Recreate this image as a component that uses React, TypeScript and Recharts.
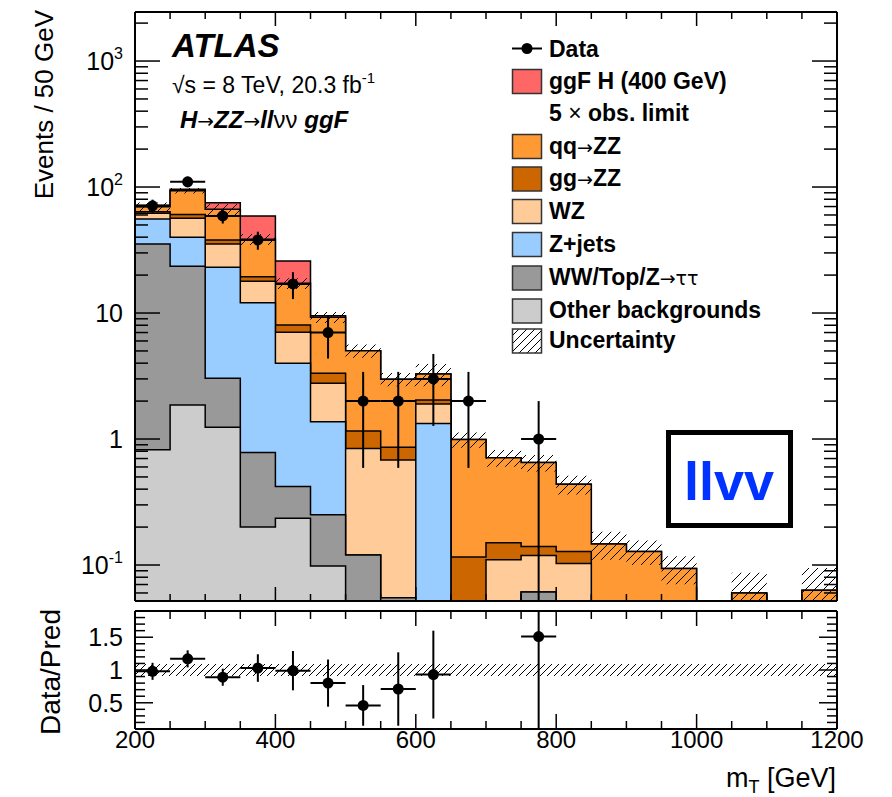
import React from "react";
import { ComposedChart, Area, Scatter, ErrorBar, XAxis, YAxis, ReferenceArea } from "recharts";

const YMIN = 0.0518;
const YMAX = 2450;
const RMIN = 0.1;
const RMAX = 1.9;

// lower edges of the 50 GeV bins
const binLow = [200, 250, 300, 350, 400, 450, 500, 550, 600, 650, 700, 750, 800, 850, 900, 950, 1000, 1050, 1100, 1150];

// expected events per bin for each process (stacked bottom to top)
const otherBkg = [0.82, 1.86, 1.24, 0.2, 0.235, 0.098, 0.02, 0, 0, 0, 0, 0, 0, 0, 0, 0, 0, 0, 0, 0];
const wwTopZtt = [34.5, 21.7, 1.79, 0.58, 0.185, 0.152, 0.1, 0.055, 0, 0, 0, 0.061, 0, 0, 0, 0, 0, 0, 0, 0];
const zJets = [20.4, 16.3, 20.1, 11.3, 3.58, 1.12, 0, 0, 1.33, 0, 0, 0, 0, 0, 0, 0, 0, 0, 0, 0];
const wz = [6.3, 16.6, 12.2, 5.8, 3.03, 1.4, 0.72, 0.625, 0.57, 0, 0.11, 0.058, 0.103, 0, 0, 0, 0, 0, 0, 0];
const ggZZ = [1.5, 4.2, 2.7, 1.5, 1.0, 0.55, 0.32, 0.18, 0.14, 0.116, 0.04, 0.021, 0.025, 0, 0, 0, 0, 0, 0, 0];
const qqZZ = [6.3, 32.8, 28.5, 19.1, 9.17, 5.93, 3.86, 2.12, 1.24, 0.874, 0.56, 0.51, 0.309, 0.147, 0.128, 0.094, 0, 0.06, 0, 0.063];
const ggfH = [1.7, 2.5, 8.5, 20.5, 8.7, 0.25, 0, 0, 0, 0, 0, 0, 0, 0, 0, 0, 0, 0, 0, 0];
// relative systematic uncertainty on the total background
const relUnc = [0.08, 0.05, 0.1, 0.1, 0.1, 0.1, 0.12, 0.12, 0.2, 0.14, 0.15, 0.15, 0.17, 0.25, 0.22, 0.25, 0, 0.45, 0, 0.5];

// observed events (bin centres) and their errors
const dataX = [225, 275, 325, 375, 425, 475, 525, 575, 625, 675, 775];
const dataN = [71, 110, 59, 38, 17, 7, 2, 2, 3, 2, 1];
const dataErr = [8.4, 10.5, 7.7, 6.2, 4.1, 2.65, 1.41, 1.41, 1.73, 1.41, 1.0];

// data / prediction
const ratioX = [225, 275, 325, 375, 425, 475, 525, 575, 625, 775];
const ratioVal = [0.98, 1.17, 0.89, 1.03, 0.99, 0.8, 0.46, 0.71, 0.93, 1.51];
const ratioErr = [0.13, 0.13, 0.13, 0.21, 0.3, 0.36, 0.31, 0.56, 0.67, 1.51];
const ratioUnc = 0.09;

// axis ticks
const xTicks = [200, 250, 300, 350, 400, 450, 500, 550, 600, 650, 700, 750, 800, 850, 900, 950, 1000, 1050, 1100, 1150, 1200];
const xLabels = [200, 400, 600, 800, 1000, 1200];
const logTicks = [
  0.06, 0.07, 0.08, 0.09, 0.1, 0.2, 0.3, 0.4, 0.5, 0.6, 0.7, 0.8, 0.9, 1, 2, 3, 4, 5, 6, 7, 8, 9,
  10, 20, 30, 40, 50, 60, 70, 80, 90, 100, 200, 300, 400, 500, 600, 700, 800, 900, 1000, 2000,
];
const logLabels: Record<string, [string, string]> = {
  "0.1": ["10", "-1"],
  "1": ["1", ""],
  "10": ["10", ""],
  "100": ["10", "2"],
  "1000": ["10", "3"],
};
const ratioTicks = [0.2, 0.3, 0.4, 0.5, 0.6, 0.7, 0.8, 0.9, 1, 1.1, 1.2, 1.3, 1.4, 1.5, 1.6, 1.7, 1.8];
const ratioLabels = [0.5, 1, 1.5];

const COLORS = {
  sig: "#ff6666",
  qq: "#ff9933",
  gg: "#cc6600",
  wz: "#ffcc99",
  zjets: "#99ccff",
  ww: "#999999",
  other: "#cccccc",
};

const floor = (v: number) => Math.max(v, YMIN);

// cumulative stack, one row per bin edge (last edge repeats the last bin)
const stackRows = [...binLow, 1200].map((x, k) => {
  const i = Math.min(k, binLow.length - 1);
  const c1 = otherBkg[i];
  const c2 = c1 + wwTopZtt[i];
  const c3 = c2 + zJets[i];
  const c4 = c3 + wz[i];
  const c5 = c4 + ggZZ[i];
  const c6 = c5 + qqZZ[i];
  const c7 = c6 + ggfH[i];
  return {
    x,
    other: floor(c1),
    ww: floor(c2),
    zjets: floor(c3),
    wz: floor(c4),
    gg: floor(c5),
    qq: floor(c6),
    sig: floor(c7),
    band: [floor(c6 * (1 - relUnc[i])), floor(c6 * (1 + relUnc[i]))],
  };
});

const dataRows = dataX.map((x, i) => ({
  x,
  y: dataN[i],
  ey: [Math.min(dataErr[i], dataN[i] - YMIN), dataErr[i]],
  ex: 25,
}));

const ratioRows = ratioX.map((x, i) => ({
  x,
  y: ratioVal[i],
  ey: [Math.min(ratioErr[i], ratioVal[i] - RMIN), Math.min(ratioErr[i], RMAX - ratioVal[i])],
  ex: 25,
}));

const LINE = { stroke: "#000", strokeWidth: 1.5 };
const FONT = "'Liberation Sans', Arial, Helvetica, sans-serif";

// x ticks point into the frame; dir = -1 for a bottom axis, +1 for a top one
function xTick(dir: number, major: number, minor: number, withLabel: boolean) {
  return (p: any) => {
    const v = p.payload.value;
    const isMajor = xLabels.includes(v);
    return (
      <g>
        <line x1={p.x} x2={p.x} y1={p.y} y2={p.y + dir * (isMajor ? major : minor)} {...LINE} />
        {withLabel && isMajor && (
          <text x={p.x} y={p.y + 19} textAnchor="middle" fontSize={24} fill="#000" fontFamily={FONT}>
            {v}
          </text>
        )}
      </g>
    );
  };
}

function logTick(dir: number, withLabel: boolean) {
  return (p: any) => {
    const v = p.payload.value;
    const lab = logLabels[String(v)];
    return (
      <g>
        <line x1={p.x} x2={p.x + dir * (lab ? 25 : 13)} y1={p.y} y2={p.y} {...LINE} />
        {withLabel && lab && (
          <text x={p.x - 12} y={p.y + 9} textAnchor="end" fontSize={25} fill="#000" fontFamily={FONT}>
            {lab[0]}
            {lab[1] && (
              <tspan dy={-11} fontSize={16}>
                {lab[1]}
              </tspan>
            )}
          </text>
        )}
      </g>
    );
  };
}

function ratioTick(dir: number, withLabel: boolean) {
  return (p: any) => {
    const v = p.payload.value;
    const isMajor = ratioLabels.includes(v);
    return (
      <g>
        <line x1={p.x} x2={p.x + dir * (isMajor ? 18 : 10)} y1={p.y} y2={p.y} {...LINE} />
        {withLabel && isMajor && (
          <text x={p.x - 12} y={p.y + 9} textAnchor="end" fontSize={25} fill="#000" fontFamily={FONT}>
            {v}
          </text>
        )}
      </g>
    );
  };
}

const dot = (p: any) => <circle cx={p.cx} cy={p.cy} r={5.5} fill="#000" />;

const AXIS_LINE = { stroke: "#000", strokeWidth: 2 };

// shared axis settings: the frame is drawn by the four axis lines
const xAxisBase = {
  dataKey: "x",
  type: "number" as const,
  domain: [200, 1200],
  ticks: xTicks,
  interval: 0,
  allowDataOverflow: true,
  tickSize: 0,
  tickMargin: 0,
  tickLine: false,
  axisLine: AXIS_LINE,
};

function MainPanel() {
  const layers: [string, string][] = [
    ["sig", COLORS.sig],
    ["qq", COLORS.qq],
    ["gg", COLORS.gg],
    ["wz", COLORS.wz],
    ["zjets", COLORS.zjets],
    ["ww", COLORS.ww],
    ["other", COLORS.other],
  ];
  const yBase = {
    type: "number" as const,
    scale: "log" as const,
    domain: [YMIN, YMAX],
    ticks: logTicks,
    interval: 0,
    allowDataOverflow: true,
    tickSize: 0,
    tickMargin: 0,
    tickLine: false,
    axisLine: AXIS_LINE,
  };
  return (
    <ComposedChart width={892} height={605} data={stackRows} margin={{ top: 2, right: 45, bottom: 0, left: 75 }}>
      <XAxis xAxisId="b" {...xAxisBase} height={4} tick={xTick(-1, 14, 7, false)} />
      <XAxis xAxisId="t" orientation="top" {...xAxisBase} height={10} tick={xTick(1, 14, 7, false)} />
      <YAxis yAxisId="l" {...yBase} width={60} tick={logTick(1, true)} />
      <YAxis yAxisId="r" orientation="right" {...yBase} width={10} tick={logTick(-1, false)} />
      {layers.map(([key, color]) => (
        <Area key={key} xAxisId="b" yAxisId="l" type="stepAfter" dataKey={key} baseValue={YMIN}
          stroke="#000" strokeWidth={1.5} fill={color} fillOpacity={1} dot={false} activeDot={false}
          isAnimationActive={false} />
      ))}
      <Area xAxisId="b" yAxisId="l" type="stepAfter" dataKey="band" stroke="none" fill="url(#hatchMain)"
        fillOpacity={1} dot={false} activeDot={false} isAnimationActive={false} />
      <Scatter xAxisId="b" yAxisId="l" data={dataRows} dataKey="y" fill="#000" shape={dot} isAnimationActive={false}>
        <ErrorBar dataKey="ey" direction="y" width={0} stroke="#000" strokeWidth={2} />
        <ErrorBar dataKey="ex" direction="x" width={0} stroke="#000" strokeWidth={2} />
      </Scatter>
    </ComposedChart>
  );
}

function RatioPanel() {
  const yBase = {
    type: "number" as const,
    domain: [RMIN, RMAX],
    ticks: ratioTicks,
    interval: 0,
    allowDataOverflow: true,
    tickSize: 0,
    tickMargin: 0,
    tickLine: false,
    axisLine: AXIS_LINE,
  };
  return (
    <ComposedChart width={892} height={197} data={ratioRows} margin={{ top: 1, right: 45, bottom: 0, left: 75 }}>
      <XAxis xAxisId="b" {...xAxisBase} height={68} tick={xTick(-1, 15, 8, true)} />
      <XAxis xAxisId="t" orientation="top" {...xAxisBase} height={10} tick={xTick(1, 15, 8, false)} />
      <YAxis yAxisId="l" {...yBase} width={60} tick={ratioTick(1, true)} />
      <YAxis yAxisId="r" orientation="right" {...yBase} width={10} tick={ratioTick(-1, false)} />
      <ReferenceArea xAxisId="b" yAxisId="l" x1={200} x2={1200} y1={1 - ratioUnc} y2={1 + ratioUnc}
        fill="url(#hatchRatio)" fillOpacity={1} stroke="none" />
      <Scatter xAxisId="b" yAxisId="l" dataKey="y" fill="#000" shape={dot} isAnimationActive={false}>
        <ErrorBar dataKey="ey" direction="y" width={0} stroke="#000" strokeWidth={2} />
        <ErrorBar dataKey="ex" direction="x" width={0} stroke="#000" strokeWidth={2} />
      </Scatter>
    </ComposedChart>
  );
}

const legendRows: { kind: "data" | "box" | "none" | "hatch"; color?: string; base: number; parts: [string, boolean][] }[] = [
  { kind: "data", base: 56.5, parts: [["Data", true]] },
  { kind: "box", color: COLORS.sig, base: 88.5, parts: [["ggF H (400 GeV)", true]] },
  { kind: "none", base: 120.5, parts: [["5 ", true], ["\u00d7", false], [" obs. limit", true]] },
  { kind: "box", color: COLORS.qq, base: 153.5, parts: [["qq", true], ["\u2192", false], ["ZZ", true]] },
  { kind: "box", color: COLORS.gg, base: 186, parts: [["gg", true], ["\u2192", false], ["ZZ", true]] },
  { kind: "box", color: COLORS.wz, base: 218.5, parts: [["WZ", true]] },
  { kind: "box", color: COLORS.zjets, base: 251.5, parts: [["Z+jets", true]] },
  { kind: "box", color: COLORS.ww, base: 285, parts: [["WW/Top/Z", true], ["\u2192\u03c4\u03c4", false]] },
  { kind: "box", color: COLORS.other, base: 318, parts: [["Other backgrounds", true]] },
  { kind: "hatch", base: 348, parts: [["Uncertainty", true]] },
];

function Overlay() {
  const sym = { fontWeight: "normal", fontStyle: "normal", fontFamily: "'DejaVu Sans', sans-serif" };
  return (
    <svg width={892} height={797} style={{ position: "absolute", left: 0, top: 0, pointerEvents: "none" }}
      fontFamily={FONT} fill="#000">
      <text x={172} y={57} fontSize={33} fontWeight="bold" fontStyle="italic">ATLAS</text>
      <text x={172} y={93} fontSize={23}>
        {"\u221as = 8 TeV, 20.3 fb"}
        <tspan dy={-10} fontSize={15}>-1</tspan>
      </text>
      <text x={180} y={128} fontSize={24} fontWeight="bold" fontStyle="italic">
        H<tspan {...sym} fontSize={20}>{"\u2192"}</tspan>ZZ
        <tspan {...sym} fontSize={20}>{"\u2192"}</tspan>ll
        <tspan {...sym} fontFamily={FONT}>{"\u03bd\u03bd"}</tspan> ggF
      </text>

      {legendRows.map((r, i) => (
        <g key={i}>
          {r.kind === "data" && (
            <g>
              <line x1={512} x2={542} y1={r.base - 8} y2={r.base - 8} stroke="#000" strokeWidth={2} />
              <circle cx={527} cy={r.base - 8} r={5.5} fill="#000" />
            </g>
          )}
          {r.kind === "box" && (
            <rect x={512.5} y={r.base - 19} width={29} height={24} fill={r.color} stroke="#333" strokeWidth={1.5} />
          )}
          {r.kind === "hatch" && (
            <rect x={512.5} y={r.base - 19} width={29} height={24} fill="url(#hatchLegend)" stroke="#333" strokeWidth={1.5} />
          )}
          <text x={549} y={r.base} fontSize={23}>
            {r.parts.map(([t, bold], j) => (
              <tspan key={j} fontWeight={bold ? "bold" : "normal"}
                fontFamily={t.startsWith("\u2192") ? "'DejaVu Sans', sans-serif" : FONT}
                fontSize={t.startsWith("\u2192") ? 19 : 23}>{t}</tspan>
            ))}
          </text>
        </g>
      ))}

      <rect x={668.5} y={432.5} width={122} height={93} fill="#fff" stroke="#000" strokeWidth={5} />
      <text x={729} y={500} fontSize={54} fontWeight="bold" fill="#0033ff" textAnchor="middle">llvv</text>

      <text transform="translate(53,10) rotate(-90)" textAnchor="end" fontSize={26}>Events / 50 GeV</text>
      <text transform="translate(60,609) rotate(-90)" textAnchor="end" fontSize={28}>Data/Pred</text>
      <text x={836} y={787} textAnchor="end" fontSize={27}>
        m<tspan fontSize={18} dy={6}>T</tspan>
        <tspan dy={-6}> [GeV]</tspan>
      </text>
    </svg>
  );
}

function Patterns() {
  return (
    <svg width={0} height={0} style={{ position: "absolute" }}>
      <defs>
        <pattern id="hatchMain" patternUnits="userSpaceOnUse" width={9} height={9}>
          <path d="M-1,1 l2,-2 M0,9 l9,-9 M8,10 l2,-2" stroke="#000" strokeWidth={1} />
        </pattern>
        <pattern id="hatchRatio" patternUnits="userSpaceOnUse" width={7} height={7}>
          <path d="M-1,1 l2,-2 M0,7 l7,-7 M6,8 l2,-2" stroke="#000" strokeWidth={1} />
        </pattern>
        <pattern id="hatchLegend" patternUnits="userSpaceOnUse" width={8} height={8}>
          <path d="M-1,1 l2,-2 M0,8 l8,-8 M7,9 l2,-2" stroke="#000" strokeWidth={1} />
        </pattern>
      </defs>
    </svg>
  );
}

export default function App() {
  return (
    <div style={{ position: "absolute", left: 0, top: 0, width: 892, height: 797, background: "#fff", fontFamily: FONT }}>
      <Patterns />
      <div style={{ position: "absolute", left: 0, top: 0 }}>
        <MainPanel />
      </div>
      <div style={{ position: "absolute", left: 0, top: 600 }}>
        <RatioPanel />
      </div>
      <Overlay />
    </div>
  );
}
